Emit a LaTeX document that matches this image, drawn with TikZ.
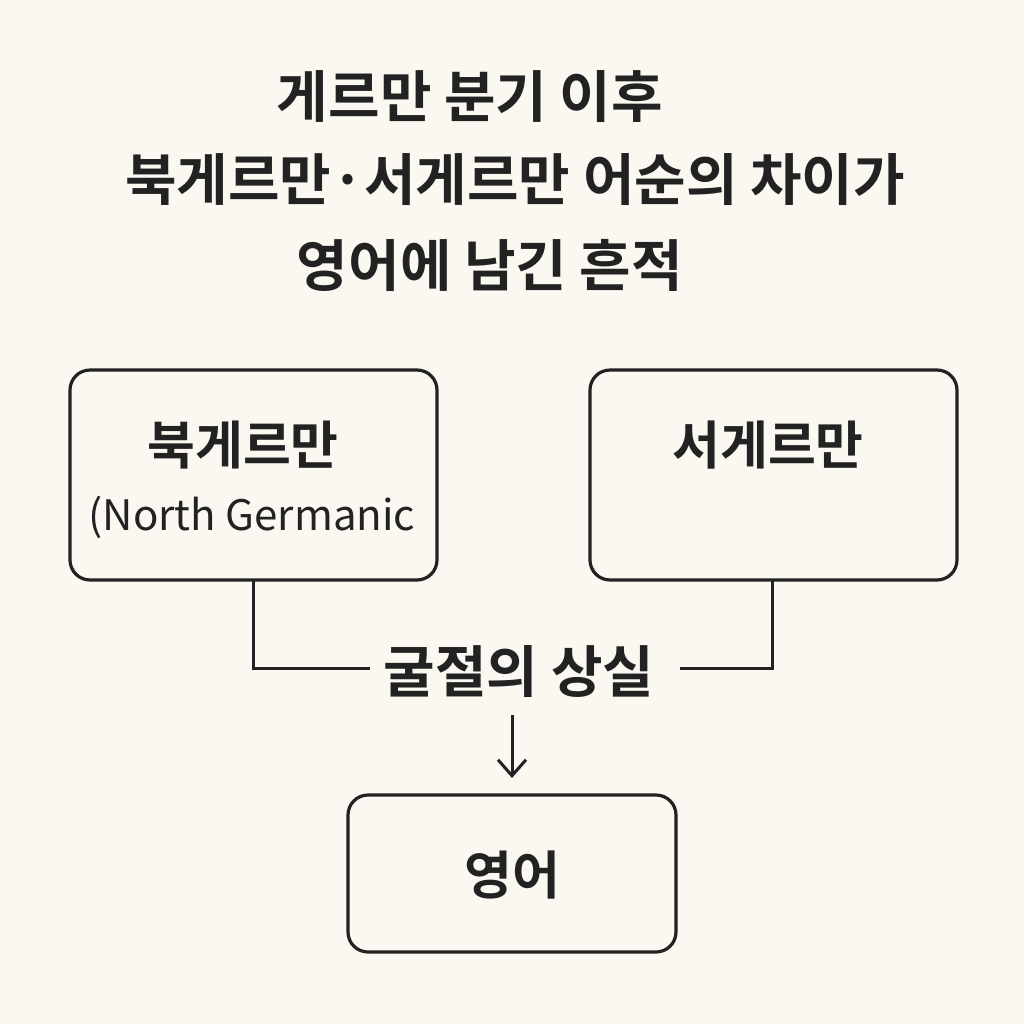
\documentclass[tikz,border=0pt]{standalone}
\usepackage{fontspec}
\newfontfamily\kr{Noto Sans CJK KR}
\newfontfamily\krb{Noto Sans CJK KR Bold}
\usetikzlibrary{arrows.meta}
\definecolor{bg}{HTML}{FBF8F1}
\definecolor{ink}{HTML}{222222}
\tikzset{
  box/.style={draw=ink,line width=1.6pt,rounded corners=10pt},
  lbl/.style={text=ink,font=\krb\fontsize{26}{30}\selectfont},
  ttl/.style={text=ink,font=\krb\fontsize{28}{33}\selectfont},
  ln/.style={draw=ink,line width=1.5pt}
}
\begin{document}
\begin{tikzpicture}[x=0.5pt,y=-0.5pt]
\fill[bg] (0,0) rectangle (1024,1024);
\useasboundingbox (0,0) rectangle (1024,1024);
\node[ttl] (t1) at (470,97) {게르만 분기 이후};
\node[ttl] (t2) at (515,180) {북게르만·서게르만 어순의 차이가};
\node[ttl] (t3) at (490,265) {영어에 남긴 흔적};
\draw[box] (70,370) rectangle (437,580);
\draw[box] (590,370) rectangle (957,580);
\draw[box] (348,795) rectangle (676,952);
\coordinate (lb) at (253,580);
\coordinate (rb) at (772,580);
\node[lbl] (n) at (243,445) {북게르만};
\node[text=ink,font=\kr\fontsize{21}{25}\selectfont] (ne) at (252,517) {(North Germanic};
\node[lbl] (w) at (768,445) {서게르만};
\node[lbl] (e) at (512,875) {영어};
\node[lbl,font=\krb\fontsize{28}{32}\selectfont] (m) at (519,672) {굴절의 상실};
\draw[ln] (lb) |- (370,668);
\draw[ln] (rb) |- (680,668);
\draw[ln,-{Straight Barb[length=8pt,width=14pt]}] (512,715) -- (512,778);
\end{tikzpicture}
\end{document}
